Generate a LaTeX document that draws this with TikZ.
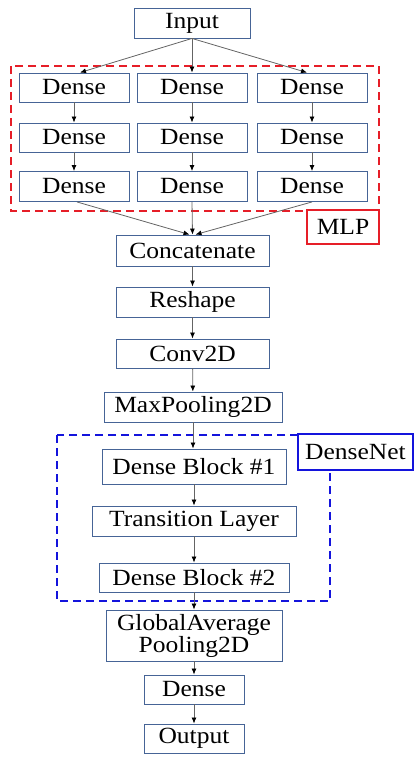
\documentclass[tikz,border=0pt]{standalone}
\usepackage{fontspec}
\setmainfont[FakeStretch=1.1]{Liberation Serif}
\usetikzlibrary{arrows.meta}
\definecolor{boxblue}{RGB}{70,100,150}
\definecolor{lineg}{RGB}{100,100,100}
\definecolor{mlpred}{RGB}{230,30,40}
\definecolor{dnblue}{RGB}{20,20,220}
\tikzset{
  layer/.style={draw=boxblue, line width=0.9pt, fill=white, inner sep=0pt,
    font=\fontsize{23.2}{25}\selectfont, align=center},
  conn/.style={draw=lineg, line width=0.8pt, -{Latex[length=6pt,width=5pt,color=black]}},
  mlpbox/.style={draw=mlpred, line width=1.8pt, dash pattern=on 8pt off 5pt},
  dnbox/.style={draw=dnblue, line width=1.8pt, dash pattern=on 8pt off 5pt},
}
\begin{document}
\begin{tikzpicture}[x=1pt,y=-1pt]
\useasboundingbox (0,0) rectangle (415,757);
% group frames
\draw[mlpbox] (11,66) rectangle (379,211);
\draw[dnbox] (57,435) rectangle (330,601);
% input
\node[layer, minimum width=116pt, minimum height=30pt] (in) at (192,23) {Input};
% MLP columns
\foreach \c/\x in {1/74,2/192,3/312}{
  \node[layer, minimum width=110pt, minimum height=29pt] (d1\c) at (\x,87.5) {Dense};
  \node[layer, minimum width=110pt, minimum height=29pt] (d2\c) at (\x,137.5) {Dense};
  \node[layer, minimum width=110pt, minimum height=30pt] (d3\c) at (\x,186.5) {Dense};
}
\node[draw=mlpred, line width=1.2pt, fill=white, minimum width=72pt, minimum height=34pt,
  inner sep=0pt, font=\fontsize{23.2}{25}\selectfont] (mlp) at (343,227) {MLP};
% main chain
\node[layer, minimum width=153pt, minimum height=31pt] (cat) at (192.5,250.5) {Concatenate};
\node[layer, minimum width=153pt, minimum height=30pt] (resh) at (192.5,302) {Reshape};
\node[layer, minimum width=153pt, minimum height=29pt] (conv) at (192.5,353.5) {Conv2D};
\node[layer, minimum width=178pt, minimum height=30pt] (mp) at (193,407) {MaxPooling2D};
\node[layer, minimum width=184pt, minimum height=35pt] (db1) at (194,466.5) {Dense Block \#1};
\node[layer, minimum width=204pt, minimum height=30pt] (tl) at (194,521) {Transition Layer};
\node[layer, minimum width=190pt, minimum height=29pt] (db2) at (194,577.5) {Dense Block \#2};
\node[layer, minimum width=176pt, minimum height=51pt] (gap) at (194,635.5) {GlobalAverage\\[-3pt]Pooling2D};
\node[layer, minimum width=100pt, minimum height=29pt] (dn) at (194,689.5) {Dense};
\node[layer, minimum width=100pt, minimum height=29pt] (out) at (194,738.5) {Output};
\node[draw=dnblue, line width=1.2pt, fill=white, minimum width=115pt, minimum height=36pt,
  inner sep=0pt, font=\fontsize{23.2}{25}\selectfont] (dnet) at (355.5,452) {DenseNet};
% connectors
\draw[conn] (in.south) -- ([xshift=6pt]d11.north);
\draw[conn] (in.south) -- (d12.north);
\draw[conn] (in.south) -- ([xshift=-5pt]d13.north);
\foreach \c in {1,2,3}{
  \draw[conn] (d1\c) -- (d2\c);
  \draw[conn] (d2\c) -- (d3\c);
}
\draw[conn] ([xshift=3pt]d31.south) -- ([xshift=-3pt]cat.north);
\draw[conn] (d32.south) -- (cat.north);
\draw[conn] (d33.south) -- ([xshift=3pt]cat.north);
\draw[conn] (cat) -- (resh);
\draw[conn] (resh) -- (conv);
\draw[conn] (conv) -- (mp);
\draw[conn] (mp.south) -- (mp.south |- db1.north);
\draw[conn] (db1) -- (tl);
\draw[conn] (tl) -- (db2);
\draw[conn] (db2.south) -- (db2.south |- gap.north);
\draw[conn] (gap) -- (dn);
\draw[conn] (dn) -- (out);
\end{tikzpicture}
\end{document}
